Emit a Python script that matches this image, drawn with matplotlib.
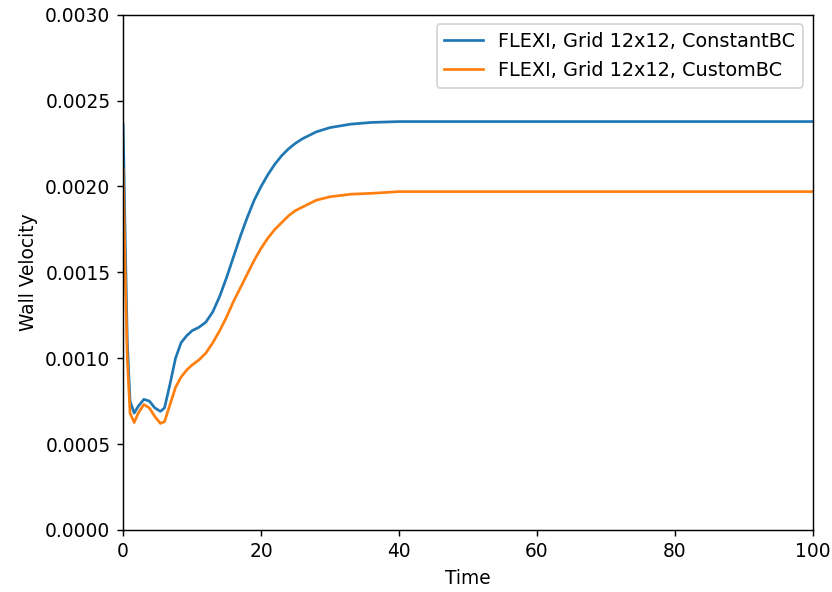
import numpy as np
import matplotlib
matplotlib.use("Agg")
from matplotlib import pyplot as plt

t_const = [0, 0.3, 0.6, 1.0, 1.6, 2.2, 3.0, 3.8, 4.6, 5.4, 6.0, 6.8, 7.6, 8.4, 9.2,
           10, 11, 12, 13, 14, 15, 16, 17, 18, 19, 20, 21, 22, 23, 24, 25, 26,
           28, 30, 33, 36, 40, 50, 100]
v_const = [0.00236, 0.0017, 0.0011, 0.00075, 0.00068, 0.00072, 0.00076, 0.00075,
           0.00071, 0.00069, 0.00071, 0.00085, 0.00100, 0.00109, 0.00113,
           0.00116, 0.00118, 0.00121, 0.00127, 0.00136, 0.00147, 0.00159,
           0.00171, 0.00182, 0.00192, 0.00200, 0.00207, 0.00213, 0.00218,
           0.00222, 0.002252, 0.002278, 0.002318, 0.002343, 0.002363, 0.002373,
           0.002378, 0.002378, 0.002378]

t_custom = [0, 0.3, 0.6, 1.0, 1.6, 2.2, 3.0, 3.8, 4.6, 5.4, 6.0, 6.8, 7.6, 8.4, 9.2,
            10, 11, 12, 13, 14, 15, 16, 17, 18, 19, 20, 21, 22, 23, 24, 25, 26,
            28, 30, 33, 36, 40, 50, 100]
v_custom = [0.0021, 0.0015, 0.0010, 0.00068, 0.000625, 0.00068, 0.00073, 0.00071,
            0.00066, 0.00062, 0.00063, 0.00073, 0.00083, 0.00089, 0.00093,
            0.00096, 0.00099, 0.00103, 0.00109, 0.00116, 0.00124, 0.00133,
            0.00141, 0.00149, 0.00157, 0.00164, 0.00170, 0.00175, 0.00179,
            0.00183, 0.00186, 0.00188, 0.00192, 0.00194, 0.001955, 0.00196,
            0.00197, 0.00197, 0.00197]

fig = plt.figure(figsize=(6.4, 4.554), dpi=130)
ax = fig.add_axes([0.148, 0.105, 0.829, 0.87])

ax.plot(t_const, v_const, label="FLEXI, Grid 12x12, ConstantBC")
ax.plot(t_custom, v_custom, label="FLEXI, Grid 12x12, CustomBC")

ax.set_xlim(0, 100)
ax.set_ylim(0, 0.003)
ax.set_yticks(np.arange(0, 0.0031, 0.0005))
ax.set_yticklabels(["%.4f" % v for v in np.arange(0, 0.0031, 0.0005)])
ax.tick_params(labelsize=10.3)
ax.set_xlabel("Time", fontsize=10.3)
ax.set_ylabel("Wall Velocity", fontsize=10.3)
ax.legend(loc="upper right", fontsize=10.7)

fig.savefig("out.png", dpi=130)
